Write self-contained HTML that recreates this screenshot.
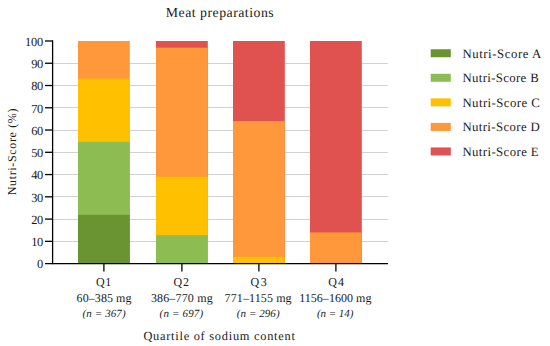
<!DOCTYPE html>
<html><head><meta charset="utf-8"><style>
html,body{margin:0;padding:0;background:#fff;width:550px;height:346px;overflow:hidden}
svg{display:block}
text{font-family:"Liberation Serif",serif;fill:#1a1a1a;text-rendering:geometricPrecision}
.i{font-style:italic}
</style></head><body>
<svg width="550" height="346" viewBox="0 0 550 346">
<line x1="53" x2="388" y1="241.50" y2="241.50" stroke="#d2d2d2" stroke-width="1"/>
<line x1="53" x2="388" y1="219.50" y2="219.50" stroke="#d2d2d2" stroke-width="1"/>
<line x1="53" x2="388" y1="196.50" y2="196.50" stroke="#d2d2d2" stroke-width="1"/>
<line x1="53" x2="388" y1="174.50" y2="174.50" stroke="#d2d2d2" stroke-width="1"/>
<line x1="53" x2="388" y1="152.50" y2="152.50" stroke="#d2d2d2" stroke-width="1"/>
<line x1="53" x2="388" y1="130.50" y2="130.50" stroke="#d2d2d2" stroke-width="1"/>
<line x1="53" x2="388" y1="107.50" y2="107.50" stroke="#d2d2d2" stroke-width="1"/>
<line x1="53" x2="388" y1="85.50" y2="85.50" stroke="#d2d2d2" stroke-width="1"/>
<line x1="53" x2="388" y1="63.50" y2="63.50" stroke="#d2d2d2" stroke-width="1"/>
<rect x="78" y="41.00" width="51.8" height="222.60" fill="#FF983A"/>
<rect x="78" y="78.62" width="51.8" height="184.98" fill="#FFC000"/>
<rect x="78" y="141.84" width="51.8" height="121.76" fill="#8DBD52"/>
<rect x="78" y="214.85" width="51.8" height="48.75" fill="#6A9332"/>
<rect x="156" y="41.00" width="51.8" height="222.60" fill="#DF524F"/>
<rect x="156" y="47.68" width="51.8" height="215.92" fill="#FF983A"/>
<rect x="156" y="176.79" width="51.8" height="86.81" fill="#FFC000"/>
<rect x="156" y="235.11" width="51.8" height="28.49" fill="#8DBD52"/>
<rect x="233" y="41.00" width="51.8" height="222.60" fill="#DF524F"/>
<rect x="233" y="121.14" width="51.8" height="142.46" fill="#FF983A"/>
<rect x="233" y="256.92" width="51.8" height="6.68" fill="#FFC000"/>
<rect x="310" y="41.00" width="51.8" height="222.60" fill="#DF524F"/>
<rect x="310" y="232.44" width="51.8" height="31.16" fill="#FF983A"/>
<line x1="52.6" x2="52.6" y1="40.40" y2="264.20" stroke="#000" stroke-width="1.3"/>
<line x1="45" x2="388" y1="263.60" y2="263.60" stroke="#000" stroke-width="1.3"/>
<line x1="45" x2="53" y1="241.34" y2="241.34" stroke="#000" stroke-width="1.3"/>
<line x1="45" x2="53" y1="219.08" y2="219.08" stroke="#000" stroke-width="1.3"/>
<line x1="45" x2="53" y1="196.82" y2="196.82" stroke="#000" stroke-width="1.3"/>
<line x1="45" x2="53" y1="174.56" y2="174.56" stroke="#000" stroke-width="1.3"/>
<line x1="45" x2="53" y1="152.30" y2="152.30" stroke="#000" stroke-width="1.3"/>
<line x1="45" x2="53" y1="130.04" y2="130.04" stroke="#000" stroke-width="1.3"/>
<line x1="45" x2="53" y1="107.78" y2="107.78" stroke="#000" stroke-width="1.3"/>
<line x1="45" x2="53" y1="85.52" y2="85.52" stroke="#000" stroke-width="1.3"/>
<line x1="45" x2="53" y1="63.26" y2="63.26" stroke="#000" stroke-width="1.3"/>
<line x1="45" x2="53" y1="41.00" y2="41.00" stroke="#000" stroke-width="1.3"/>
<line x1="103.90" x2="103.90" y1="263.60" y2="271.5" stroke="#000" stroke-width="1.3"/>
<line x1="181.90" x2="181.90" y1="263.60" y2="271.5" stroke="#000" stroke-width="1.3"/>
<line x1="258.90" x2="258.90" y1="263.60" y2="271.5" stroke="#000" stroke-width="1.3"/>
<line x1="335.90" x2="335.90" y1="263.60" y2="271.5" stroke="#000" stroke-width="1.3"/>
<text id="yl0" x="43.20" y="268.40" text-anchor="end" class="" style="font-size:12.4px">0</text>
<text id="yl10" x="43.20" y="246.14" text-anchor="end" class="" style="font-size:12.4px" textLength="12.00" lengthAdjust="spacing">10</text>
<text id="yl20" x="43.20" y="223.88" text-anchor="end" class="" style="font-size:12.4px" textLength="12.00" lengthAdjust="spacing">20</text>
<text id="yl30" x="43.20" y="201.62" text-anchor="end" class="" style="font-size:12.4px" textLength="12.00" lengthAdjust="spacing">30</text>
<text id="yl40" x="43.20" y="179.36" text-anchor="end" class="" style="font-size:12.4px" textLength="12.00" lengthAdjust="spacing">40</text>
<text id="yl50" x="43.20" y="157.10" text-anchor="end" class="" style="font-size:12.4px" textLength="12.00" lengthAdjust="spacing">50</text>
<text id="yl60" x="43.20" y="134.84" text-anchor="end" class="" style="font-size:12.4px" textLength="12.00" lengthAdjust="spacing">60</text>
<text id="yl70" x="43.20" y="112.58" text-anchor="end" class="" style="font-size:12.4px" textLength="12.00" lengthAdjust="spacing">70</text>
<text id="yl80" x="43.20" y="90.32" text-anchor="end" class="" style="font-size:12.4px" textLength="12.00" lengthAdjust="spacing">80</text>
<text id="yl90" x="43.20" y="68.06" text-anchor="end" class="" style="font-size:12.4px" textLength="12.00" lengthAdjust="spacing">90</text>
<text id="yl100" x="43.20" y="45.80" text-anchor="end" class="" style="font-size:12.4px" textLength="18.10" lengthAdjust="spacing">100</text>
<text id="title" x="165.80" y="17.00" text-anchor="start" class="" style="font-size:13.8px" textLength="107.85" lengthAdjust="spacing">Meat preparations</text>
<text id="ytitle" transform="translate(16.00,195.30) rotate(-90)" text-anchor="start" class="" style="font-size:12px" textLength="86.84" lengthAdjust="spacing">Nutri-Score (%)</text>
<text id="q0" x="96.10" y="286.20" text-anchor="start" class="" style="font-size:12px" textLength="15.17" lengthAdjust="spacing">Q1</text>
<text id="r0" x="76.60" y="301.60" text-anchor="start" class="" style="font-size:12px" textLength="54.94" lengthAdjust="spacing">60–385 mg</text>
<text id="n0" x="82.40" y="316.80" text-anchor="start" class="i" style="font-size:11px" textLength="43.27" lengthAdjust="spacing">(<tspan>n</tspan> = 367)</text>
<text id="q1" x="173.50" y="286.20" text-anchor="start" class="" style="font-size:12px" textLength="15.47" lengthAdjust="spacing">Q2</text>
<text id="r1" x="150.90" y="301.60" text-anchor="start" class="" style="font-size:12px" textLength="61.74" lengthAdjust="spacing">386–770 mg</text>
<text id="n1" x="159.60" y="316.80" text-anchor="start" class="i" style="font-size:11px" textLength="43.57" lengthAdjust="spacing">(<tspan>n</tspan> = 697)</text>
<text id="q2" x="250.60" y="286.20" text-anchor="start" class="" style="font-size:12px" textLength="16.07" lengthAdjust="spacing">Q3</text>
<text id="r2" x="224.60" y="301.60" text-anchor="start" class="" style="font-size:12px" textLength="66.99" lengthAdjust="spacing">771–1155 mg</text>
<text id="n2" x="236.80" y="316.80" text-anchor="start" class="i" style="font-size:11px" textLength="42.77" lengthAdjust="spacing">(<tspan>n</tspan> = 296)</text>
<text id="q3" x="328.30" y="286.20" text-anchor="start" class="" style="font-size:12px" textLength="15.77" lengthAdjust="spacing">Q4</text>
<text id="r3" x="299.20" y="301.60" text-anchor="start" class="" style="font-size:12px" textLength="72.19" lengthAdjust="spacing">1156–1600 mg</text>
<text id="n3" x="316.90" y="316.80" text-anchor="start" class="i" style="font-size:11px" textLength="36.47" lengthAdjust="spacing">(<tspan>n</tspan> = 14)</text>
<text id="xtitle" x="143.40" y="339.90" text-anchor="start" class="" style="font-size:12.4px" textLength="151.48" lengthAdjust="spacing">Quartile of sodium content</text>
<rect x="430.7" y="49.25" width="20.1" height="8.0" fill="#6A9332"/>
<text id="legA" x="462.40" y="57.60" text-anchor="start" class="" style="font-size:12.8px" textLength="78.88" lengthAdjust="spacing">Nutri-Score A</text>
<rect x="430.7" y="73.80" width="20.1" height="8.0" fill="#8DBD52"/>
<text id="legB" x="462.40" y="82.18" text-anchor="start" class="" style="font-size:12.8px" textLength="76.28" lengthAdjust="spacing">Nutri-Score B</text>
<rect x="430.7" y="98.35" width="20.1" height="8.0" fill="#FFC000"/>
<text id="legC" x="462.40" y="106.76" text-anchor="start" class="" style="font-size:12.8px" textLength="77.28" lengthAdjust="spacing">Nutri-Score C</text>
<rect x="430.7" y="122.90" width="20.1" height="8.0" fill="#FF983A"/>
<text id="legD" x="462.40" y="131.34" text-anchor="start" class="" style="font-size:12.8px" textLength="77.37" lengthAdjust="spacing">Nutri-Score D</text>
<rect x="430.7" y="147.45" width="20.1" height="8.0" fill="#DF524F"/>
<text id="legE" x="462.40" y="155.92" text-anchor="start" class="" style="font-size:12.8px" textLength="76.28" lengthAdjust="spacing">Nutri-Score E</text>
</svg>
</body></html>
